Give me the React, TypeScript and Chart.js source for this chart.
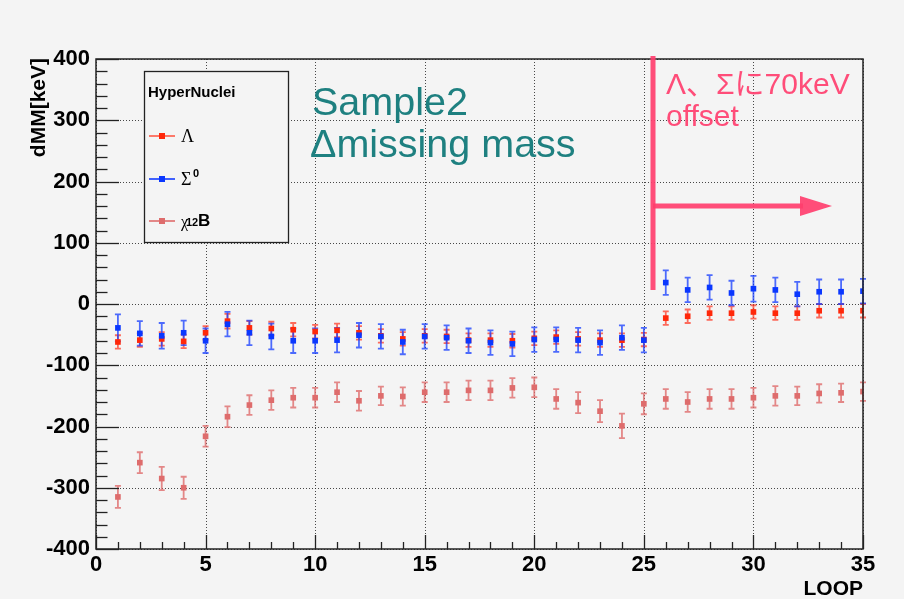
import React, { useEffect, useRef } from "react";
import { Chart, registerables } from "chart.js";

Chart.register(...registerables);

const loops = [1, 2, 3, 4, 5, 6, 7, 8, 9, 10, 11, 12, 13, 14, 15, 16, 17, 18, 19, 20, 21, 22, 23, 24, 25, 26, 27, 28, 29, 30, 31, 32, 33, 34, 35];

const lambdaValues = [-62, -59, -57, -61, -47, -28, -39, -40, -42, -45, -43, -47, -52, -57, -52, -53, -59, -59, -60, -56, -54, -57, -59, -59, -58, -23, -20, -15, -15, -13, -15, -15, -11, -11, -11];
const lambdaErrors = [11, 11, 11, 11, 11, 12, 11, 11, 11, 11, 11, 11, 11, 11, 11, 11, 11, 11, 11, 11, 11, 11, 11, 11, 11, 11, 11, 11, 11, 11, 11, 11, 11, 11, 11];

const sigmaValues = [-39, -48, -52, -47, -60, -33, -47, -53, -60, -60, -59, -51, -53, -62, -53, -55, -60, -63, -65, -58, -58, -59, -63, -55, -59, 35, 23, 27, 18, 25, 23, 16, 20, 20, 21];
const sigmaErrors = [22, 20, 21, 20, 20, 20, 20, 21, 20, 20, 20, 20, 20, 20, 20, 20, 20, 20, 20, 20, 20, 20, 20, 20, 20, 20, 20, 20, 20, 21, 20, 20, 20, 20, 20];

const boronValues = [-315, -259, -285, -300, -216, -184, -165, -157, -153, -153, -144, -158, -150, -151, -144, -144, -141, -141, -137, -136, -155, -161, -175, -199, -163, -155, -160, -155, -155, -153, -150, -150, -146, -145, -143];
const boronErrors = [18, 17, 19, 18, 17, 17, 16, 16, 16, 16, 16, 16, 15, 15, 16, 16, 16, 16, 16, 16, 16, 17, 18, 20, 17, 16, 16, 16, 16, 16, 16, 15, 15, 15, 15];

const yTicks = [-400, -300, -200, -100, 0, 100, 200, 300, 400];
const xTicks = [0, 5, 10, 15, 20, 25, 30, 35];

const LAMBDA_COLOR = "rgb(255,40,10)";
const LAMBDA_BAR = "rgba(255,60,40,0.75)";
const SIGMA_COLOR = "rgb(10,55,255)";
const SIGMA_BAR = "rgba(20,60,255,0.75)";
const BORON_COLOR = "rgb(222,108,108)";
const BORON_BAR = "rgba(222,108,108,0.8)";
const NOTE_COLOR = "rgba(255,62,110,0.92)";

const SANS = '"Liberation Sans", Arial, Helvetica, sans-serif';
const SERIF = '"Liberation Serif", "DejaVu Serif", serif';

const rootPlugin = {
  id: "rootStyle",
  beforeDraw(chart: any) {
    const { ctx, width, height } = chart;
    ctx.save();
    ctx.fillStyle = "#f4f4f4";
    ctx.fillRect(0, 0, width, height);
    ctx.restore();
  },
  beforeDatasetsDraw(chart: any) {
    const { ctx, chartArea: a, scales } = chart;
    const xs = scales.x;
    const ys = scales.y;
    ctx.save();
    ctx.strokeStyle = "rgba(40,40,40,0.85)";
    ctx.lineWidth = 1;
    ctx.setLineDash([1, 2]);
    xTicks.forEach((t) => {
      const px = Math.round(xs.getPixelForValue(t)) + 0.5;
      ctx.beginPath();
      ctx.moveTo(px, a.top);
      ctx.lineTo(px, a.bottom);
      ctx.stroke();
    });
    yTicks.forEach((t) => {
      const py = Math.round(ys.getPixelForValue(t)) + 0.5;
      ctx.beginPath();
      ctx.moveTo(a.left, py);
      ctx.lineTo(a.right, py);
      ctx.stroke();
    });
    ctx.setLineDash([]);
    const order = [2, 0, 1];
    order.forEach((di) => {
      const ds = chart.data.datasets[di];
      const errs: number[] = ds.errors;
      ctx.strokeStyle = ds.barColor;
      ctx.lineWidth = 1.8;
      ds.data.forEach((p: any, i: number) => {
        const px = xs.getPixelForValue(p.x);
        const y1 = ys.getPixelForValue(p.y - errs[i]);
        const y2 = ys.getPixelForValue(p.y + errs[i]);
        ctx.beginPath();
        ctx.moveTo(px, y1);
        ctx.lineTo(px, y2);
        ctx.moveTo(px - 3, y1);
        ctx.lineTo(px + 3, y1);
        ctx.moveTo(px - 3, y2);
        ctx.lineTo(px + 3, y2);
        ctx.stroke();
      });
    });
    ctx.restore();
  },
  afterDatasetsDraw(chart: any) {
    const { ctx, chartArea: a, scales } = chart;
    const xs = scales.x;
    const ys = scales.y;
    ctx.save();
    ctx.strokeStyle = "#222";
    ctx.lineWidth = 1.5;
    ctx.strokeRect(a.left, a.top, a.right - a.left, a.bottom - a.top);
    ctx.lineWidth = 1.3;
    for (let v = -400; v <= 400; v += 20) {
      const py = Math.round(ys.getPixelForValue(v)) + 0.5;
      const len = v % 100 === 0 ? 23 : 11.5;
      ctx.beginPath();
      ctx.moveTo(a.left, py);
      ctx.lineTo(a.left + len, py);
      ctx.stroke();
    }
    for (let v = 0; v <= 35; v += 1) {
      const px = Math.round(xs.getPixelForValue(v)) + 0.5;
      const len = v % 5 === 0 ? 14 : 7;
      ctx.beginPath();
      ctx.moveTo(px, a.bottom);
      ctx.lineTo(px, a.bottom - len);
      ctx.stroke();
    }
    ctx.restore();
  },
  afterDraw(chart: any) {
    const { ctx, chartArea: a } = chart;
    ctx.save();
    ctx.fillStyle = "#000";
    ctx.font = `bold 21px ${SANS}`;
    ctx.textAlign = "right";
    ctx.textBaseline = "alphabetic";
    ctx.fillText("LOOP", a.right, 595);
    ctx.save();
    ctx.translate(45, a.top - 1);
    ctx.rotate(-Math.PI / 2);
    ctx.textAlign = "right";
    ctx.fillText("dMM[keV]", 0, 0);
    ctx.restore();

    ctx.fillStyle = "#f4f4f4";
    ctx.fillRect(144, 71, 144, 171);
    ctx.strokeStyle = "#222";
    ctx.lineWidth = 1.3;
    ctx.strokeRect(144.5, 71.5, 144, 171);
    ctx.fillStyle = "#000";
    ctx.textAlign = "left";
    ctx.font = `bold 15px ${SANS}`;
    ctx.fillText("HyperNuclei", 148, 97);
    const entries = [
      { y: 136, line: "rgba(255,80,60,0.75)", mark: LAMBDA_COLOR },
      { y: 179, line: "rgba(20,60,255,0.8)", mark: SIGMA_COLOR },
      { y: 221, line: "rgba(222,108,108,0.8)", mark: BORON_COLOR },
    ];
    entries.forEach((e) => {
      ctx.strokeStyle = e.line;
      ctx.lineWidth = 2;
      ctx.beginPath();
      ctx.moveTo(149, e.y);
      ctx.lineTo(175, e.y);
      ctx.stroke();
      ctx.fillStyle = e.mark;
      ctx.fillRect(159, e.y - 3, 6, 6);
    });
    ctx.fillStyle = "#000";
    ctx.font = `18px ${SERIF}`;
    ctx.fillText("Λ", 181, 142);
    ctx.fillText("Σ", 181, 185);
    ctx.font = `bold 11px ${SANS}`;
    ctx.fillText("0", 193, 177);
    ctx.font = `16px ${SERIF}`;
    ctx.fillText("χ", 181, 227);
    ctx.font = `bold 11px ${SANS}`;
    ctx.fillText("12", 186, 226);
    ctx.font = `bold 17px ${SANS}`;
    ctx.fillText("B", 198, 226);

    ctx.fillStyle = "rgb(30,128,128)";
    ctx.font = `39.5px ${SANS}`;
    ctx.fillText("Sample2", 312, 115);
    ctx.fillText("Δmissing mass", 310, 157);

    ctx.strokeStyle = NOTE_COLOR;
    ctx.fillStyle = NOTE_COLOR;
    ctx.lineWidth = 5;
    ctx.beginPath();
    ctx.moveTo(653, 56);
    ctx.lineTo(653, 290);
    ctx.stroke();
    ctx.beginPath();
    ctx.moveTo(653, 206);
    ctx.lineTo(803, 206);
    ctx.stroke();
    ctx.beginPath();
    ctx.moveTo(800, 196);
    ctx.lineTo(832, 206);
    ctx.lineTo(800, 216);
    ctx.closePath();
    ctx.fill();
    ctx.font = `30px ${SANS}, "Noto Sans CJK JP"`;
    ctx.fillText("Λ、Σに70keV", 666, 94);
    ctx.fillText("offset", 666, 126);
    ctx.restore();
  },
};

export default function App() {
  const canvasRef = useRef<HTMLCanvasElement | null>(null);

  useEffect(() => {
    document.body.style.margin = "0";
    document.body.style.background = "#f4f4f4";
    const canvas = canvasRef.current;
    if (!canvas) return;
    const mk = (vals: number[]) => loops.map((x, i) => ({ x, y: vals[i] }));
    const chart = new Chart(canvas, {
      type: "scatter",
      data: {
        datasets: [
          {
            label: "Λ",
            data: mk(lambdaValues),
            errors: lambdaErrors,
            barColor: LAMBDA_BAR,
            backgroundColor: LAMBDA_COLOR,
            borderColor: LAMBDA_COLOR,
            pointStyle: "rect",
            pointRadius: 4,
            borderWidth: 0,
            showLine: false,
            order: 1,
          } as any,
          {
            label: "Σ0",
            data: mk(sigmaValues),
            errors: sigmaErrors,
            barColor: SIGMA_BAR,
            backgroundColor: SIGMA_COLOR,
            borderColor: SIGMA_COLOR,
            pointStyle: "rect",
            pointRadius: 4,
            borderWidth: 0,
            showLine: false,
            order: 0,
          } as any,
          {
            label: "12B",
            data: mk(boronValues),
            errors: boronErrors,
            barColor: BORON_BAR,
            backgroundColor: BORON_COLOR,
            borderColor: BORON_COLOR,
            pointStyle: "rect",
            pointRadius: 4,
            borderWidth: 0,
            showLine: false,
            order: 2,
          } as any,
        ],
      },
      options: {
        responsive: false,
        animation: false,
        devicePixelRatio: 1,
        layout: { padding: { left: 0, top: 59, right: 41, bottom: 0 } },
        plugins: {
          legend: { display: false },
          tooltip: { enabled: false },
        },
        scales: {
          x: {
            type: "linear",
            min: 0,
            max: 35,
            afterBuildTicks: (s: any) => {
              s.ticks = xTicks.map((v) => ({ value: v }));
            },
            afterFit: (s: any) => {
              s.height = 50;
            },
            ticks: {
              font: { family: SANS, size: 22, weight: "bold" },
              color: "#000",
              padding: 3,
              maxRotation: 0,
              autoSkip: false,
            },
            grid: { display: false, drawTicks: false },
            border: { display: false },
          },
          y: {
            type: "linear",
            min: -400,
            max: 400,
            afterBuildTicks: (s: any) => {
              s.ticks = yTicks.map((v) => ({ value: v }));
            },
            afterFit: (s: any) => {
              s.width = 96;
            },
            ticks: {
              font: { family: SANS, size: 22, weight: "bold" },
              color: "#000",
              padding: 6,
              autoSkip: false,
            },
            grid: { display: false, drawTicks: false },
            border: { display: false },
          },
        },
      } as any,
      plugins: [rootPlugin],
    });
    return () => chart.destroy();
  }, []);

  return (
    <div style={{ width: 904, height: 599, background: "#f4f4f4" }}>
      <canvas ref={canvasRef} width={904} height={599} style={{ display: "block" }} />
    </div>
  );
}
